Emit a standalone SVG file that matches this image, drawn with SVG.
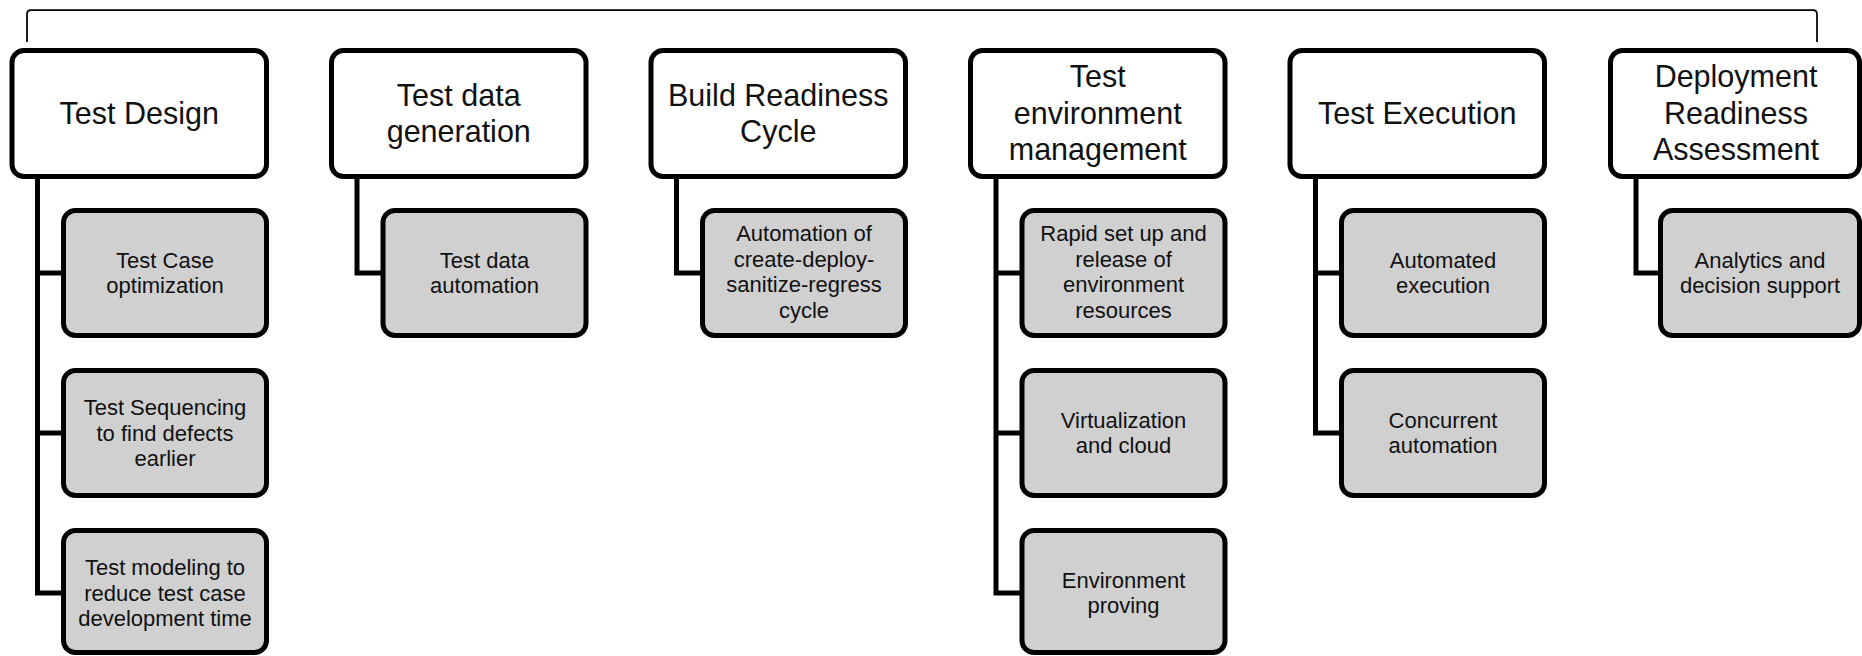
<svg xmlns="http://www.w3.org/2000/svg" width="1862" height="656" viewBox="0 0 1862 656">
<style>
.hdr{fill:#fff;stroke:#000;stroke-width:5}
.sub{fill:#d0d0d0;stroke:#000;stroke-width:5}
.ht{font-family:"Liberation Sans",Arial,sans-serif;font-size:30.5px;fill:#111;text-anchor:middle}
.st{font-family:"Liberation Sans",Arial,sans-serif;font-size:22px;fill:#111;text-anchor:middle}
.con{fill:none;stroke:#000;stroke-width:5;stroke-linejoin:miter}
.br{fill:none;stroke:#000;stroke-width:1.75}
</style>
<rect width="1862" height="656" fill="#fff"/>
<g id="connectors">
<path class="br" d="M27,42 V14 Q27,10 31,10 H1813 Q1817,10 1817,14 V42"/>
<path class="con" d="M37.5,178 V593 H64 M37.5,273 H64 M37.5,433 H64"/>
<path class="con" d="M357,178 V273 H383"/>
<path class="con" d="M676.5,178 V273 H702"/>
<path class="con" d="M996,178 V593 H1022 M996,273 H1022 M996,433 H1022"/>
<path class="con" d="M1315.5,178 V433 H1341 M1315.5,273 H1341"/>
<path class="con" d="M1636,178 V273 H1661"/>
</g>
<g id="n-test-design">
<rect class="hdr" x="12" y="50.5" width="254.5" height="126" rx="12"/>
<text class="ht" x="139.25" y="124">Test Design</text>
</g>
<g id="n-tc-opt">
<rect class="sub" x="63.5" y="210.5" width="203" height="125" rx="12"/>
<text class="st" x="165"><tspan x="165" y="267.75">Test Case</tspan><tspan x="165" y="293.25">optimization</tspan></text>
</g>
<g id="n-test-seq">
<rect class="sub" x="63.5" y="370.5" width="203" height="125" rx="12"/>
<text class="st"><tspan x="165" y="415">Test Sequencing</tspan><tspan x="165" y="440.5">to find defects</tspan><tspan x="165" y="466">earlier</tspan></text>
</g>
<g id="n-test-model">
<rect class="sub" x="63.5" y="530.5" width="203" height="122" rx="12"/>
<text class="st"><tspan x="165" y="575">Test modeling to</tspan><tspan x="165" y="600.5">reduce test case</tspan><tspan x="165" y="626">development time</tspan></text>
</g>
<g id="n-test-data">
<rect class="hdr" x="331.5" y="50.5" width="254.5" height="126" rx="12"/>
<text class="ht"><tspan x="458.75" y="105.5">Test data</tspan><tspan x="458.75" y="142">generation</tspan></text>
</g>
<g id="n-td-auto">
<rect class="sub" x="383" y="210.5" width="203" height="125" rx="12"/>
<text class="st"><tspan x="484.5" y="267.75">Test data</tspan><tspan x="484.5" y="293.25">automation</tspan></text>
</g>
<g id="n-build">
<rect class="hdr" x="651" y="50.5" width="254.5" height="126" rx="12"/>
<text class="ht"><tspan x="778.25" y="105.5">Build Readiness</tspan><tspan x="778.25" y="142">Cycle</tspan></text>
</g>
<g id="n-build-auto">
<rect class="sub" x="702.5" y="210.5" width="203" height="125" rx="12"/>
<text class="st"><tspan x="804" y="241.25">Automation of</tspan><tspan x="804" y="266.75">create-deploy-</tspan><tspan x="804" y="292.25">sanitize-regress</tspan><tspan x="804" y="317.75">cycle</tspan></text>
</g>
<g id="n-env">
<rect class="hdr" x="970.5" y="50.5" width="254.5" height="126" rx="12"/>
<text class="ht"><tspan x="1097.75" y="87.25">Test</tspan><tspan x="1097.75" y="123.75">environment</tspan><tspan x="1097.75" y="160.25">management</tspan></text>
</g>
<g id="n-env-rapid">
<rect class="sub" x="1022" y="210.5" width="203" height="125" rx="12"/>
<text class="st"><tspan x="1123.5" y="241.25">Rapid set up and</tspan><tspan x="1123.5" y="266.75">release of</tspan><tspan x="1123.5" y="292.25">environment</tspan><tspan x="1123.5" y="317.75">resources</tspan></text>
</g>
<g id="n-env-virt">
<rect class="sub" x="1022" y="370.5" width="203" height="125" rx="12"/>
<text class="st"><tspan x="1123.5" y="427.75">Virtualization</tspan><tspan x="1123.5" y="453.25">and cloud</tspan></text>
</g>
<g id="n-env-prove">
<rect class="sub" x="1022" y="530.5" width="203" height="122" rx="12"/>
<text class="st"><tspan x="1123.5" y="587.75">Environment</tspan><tspan x="1123.5" y="613.25">proving</tspan></text>
</g>
<g id="n-exec">
<rect class="hdr" x="1290" y="50.5" width="254.5" height="126" rx="12"/>
<text class="ht" x="1417.25" y="124">Test Execution</text>
</g>
<g id="n-exec-auto">
<rect class="sub" x="1341.5" y="210.5" width="203" height="125" rx="12"/>
<text class="st"><tspan x="1443" y="267.75">Automated</tspan><tspan x="1443" y="293.25">execution</tspan></text>
</g>
<g id="n-exec-conc">
<rect class="sub" x="1341.5" y="370.5" width="203" height="125" rx="12"/>
<text class="st"><tspan x="1443" y="427.75">Concurrent</tspan><tspan x="1443" y="453.25">automation</tspan></text>
</g>
<g id="n-deploy">
<rect class="hdr" x="1610.5" y="50.5" width="249" height="126" rx="12"/>
<text class="ht"><tspan x="1736" y="87.25">Deployment</tspan><tspan x="1736" y="123.75">Readiness</tspan><tspan x="1736" y="160.25">Assessment</tspan></text>
</g>
<g id="n-deploy-anal">
<rect class="sub" x="1660.5" y="210.5" width="199" height="125" rx="12"/>
<text class="st"><tspan x="1760" y="267.75">Analytics and</tspan><tspan x="1760" y="293.25">decision support</tspan></text>
</g>
</svg>
